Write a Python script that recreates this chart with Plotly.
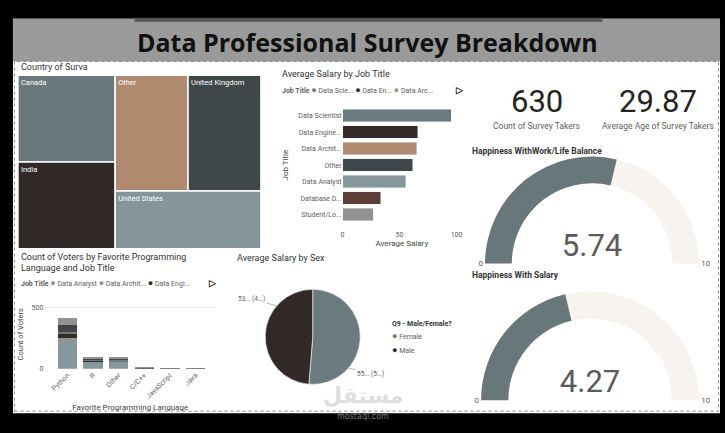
import plotly.graph_objects as go

W, H = 725, 433
def X(px): return px / W
def Y(py): return 1 - py / H

# ---------------- data ----------------
countries = ["Canada", "India", "Other", "United Kingdom", "United States"]
country_values = [126, 126, 126, 126, 126]
country_colors = ["#6a787b", "#312828", "#b08a6f", "#3f4749", "#84969a"]

job_titles = ["Data Scientist", "Data Engineer", "Data Architect", "Other",
              "Data Analyst", "Database Developer", "Student/Looking/None"]
job_ticklabels = ["Data Scientist", "Data Engine...", "Data Archit...", "Other",
                  "Data Analyst", "Database D...", "Student/Lo..."]
avg_salary = [95.5, 66.0, 65.0, 61.5, 55.5, 33.5, 27.0]
job_color = {
    "Data Scientist": "#6b7a7d", "Data Engineer": "#332a2a", "Data Architect": "#b08b70",
    "Other": "#3e4749", "Data Analyst": "#85979b", "Database Developer": "#5e3e38",
    "Student/Looking/None": "#959190",
}
salary_legend = ["Data Scie...", "Data En...", "Data Arc..."]

languages = ["Python", "R", "Other", "C/C++", "JavaScript", "Java"]
stack_jobs = ["Data Analyst", "Data Architect", "Data Engineer", "Data Scientist",
              "Database Developer", "Other", "Student/Looking/None"]
votes = {
    "Data Analyst":         [249, 64, 58, 6, 4, 2],
    "Data Architect":       [2, 1, 1, 0, 0, 0],
    "Data Engineer":        [32, 5, 6, 2, 2, 1],
    "Data Scientist":       [24, 9, 10, 2, 1, 0],
    "Database Developer":   [2, 1, 1, 0, 0, 0],
    "Other":                [48, 6, 7, 1, 1, 0],
    "Student/Looking/None": [54, 12, 8, 1, 1, 1],
}
votes_legend = ["Data Analyst", "Data Archit...", "Data Engi..."]

sexes = ["Female", "Male"]
sex_salary = [55.9, 53.1]
sex_colors = ["#6b7a7d", "#312828"]

survey_count = 630
avg_age = 29.87
happy_work_life = 5.74
happy_salary = 4.27

FONT = "Roboto"
TXT = "#252423"
GREY = "#605e5c"

fig = go.Figure()

# ---------------- treemap ----------------
fig.add_trace(go.Treemap(
    labels=countries, parents=[""] * len(countries), values=country_values,
    marker=dict(colors=country_colors, line=dict(color="white", width=1.5),
                pad=dict(t=0, l=0, r=0, b=0)),
    textinfo="label", textposition="top left",
    textfont=dict(family=FONT, size=7.5, color="white"),
    pathbar=dict(visible=False), sort=True,
    tiling=dict(packing="squarify", pad=0),
    domain=dict(x=[X(16), X(260)], y=[Y(251), Y(76)]),
))

# ---------------- salary by job title ----------------
fig.add_trace(go.Bar(
    x=avg_salary, y=job_titles, orientation="h",
    marker=dict(color=[job_color[j] for j in job_titles]),
    xaxis="x", yaxis="y", showlegend=False,
))

# ---------------- stacked votes ----------------
for j in stack_jobs:
    fig.add_trace(go.Bar(
        x=languages, y=votes[j], name=j, marker=dict(color=job_color[j], line=dict(width=0)),
        xaxis="x2", yaxis="y2", showlegend=False,
    ))

# ---------------- pie ----------------
fig.add_trace(go.Pie(
    labels=sexes, values=sex_salary, sort=False, direction="clockwise", rotation=0,
    marker=dict(colors=sex_colors, line=dict(color="white", width=0.6)),
    textinfo="none", showlegend=False,
    domain=dict(x=[X(264), X(360)], y=[Y(388), Y(292)]),
))

# ---------------- gauges ----------------
def gauge(value, x0, x1, y0, y1):
    return go.Indicator(
        mode="gauge+number", value=value,
        number=dict(valueformat=".2f", font=dict(family=FONT, size=31, color="#5b5b5b")),
        gauge=dict(
            shape="angular",
            axis=dict(range=[0, 10], tickvals=[0, 10], ticklen=0, tickwidth=0,
                      tickcolor="rgba(0,0,0,0)",
                      tickfont=dict(family=FONT, size=8, color=GREY)),
            bar=dict(color="#67777a", thickness=1),
            bgcolor="#f7f3ee", borderwidth=0,
        ),
        domain=dict(x=[X(x0), X(x1)], y=[Y(y1), Y(y0)]),
    )

fig.add_trace(gauge(happy_work_life, 484, 701, 158, 266))
fig.add_trace(gauge(happy_salary, 481, 700, 294, 404))

# ---------------- shapes ----------------
shapes = [
    dict(type="rect", xref="paper", yref="paper", x0=X(11), x1=X(721), y0=Y(417), y1=Y(19),
         fillcolor="white", line=dict(width=0), layer="below"),
    dict(type="rect", xref="paper", yref="paper", x0=X(11), x1=X(721), y0=Y(62), y1=Y(19),
         fillcolor="#9a9a9a", line=dict(width=0), layer="below"),
    dict(type="rect", xref="paper", yref="paper", x0=X(133), x1=X(603), y0=Y(22), y1=Y(18),
         fillcolor="#555555", line=dict(width=0), layer="below"),
    dict(type="rect", xref="paper", yref="paper", x0=X(12.5), x1=X(719.5), y0=Y(415), y1=Y(62),
         fillcolor="rgba(0,0,0,0)", line=dict(color="#8a8a8a", width=1, dash="dot"), layer="below"),
]

# ---------------- annotations ----------------
ann = []
def txt(x, y, s, size=9, color=TXT, xanchor="left", family=FONT, bold=False, yanchor="middle"):
    ann.append(dict(xref="paper", yref="paper", x=X(x), y=Y(y), text=(f"<b>{s}</b>" if bold else s),
                    showarrow=False, xanchor=xanchor, yanchor=yanchor,
                    font=dict(family=family, size=size, color=color)))

txt(367, 42, "Data Professional Survey Breakdown", size=25, color="#111111",
    xanchor="center", family="Open Sans", bold=True)

txt(17, 68, "Country of Surva", size=9, color="#333333")
txt(279, 75, "Average Salary by Job Title", size=9, color="#333333")
txt(17, 259, "Count of Voters by Favorite Programming", size=9, color="#333333")
txt(17, 271, "Language and Job Title", size=9, color="#333333")
txt(234, 260, "Average Salary by Sex", size=9, color="#333333")

DOT = "<span style='color:{c};font-size:9px'>●</span> {t}"

def legend_line(x, y, labels, jobs, arrow_x):
    parts = ["<b>Job Title</b>"]
    for lab, j in zip(labels, jobs):
        parts.append(DOT.format(c=job_color[j], t=lab))
    txt(x, y, " ".join(parts), size=7, color=GREY)
    txt(arrow_x, y, "▷", size=9, color="#222222", bold=True)

legend_line(279, 91, salary_legend, job_titles[:3], 453)
legend_line(17, 286, votes_legend, stack_jobs[:3], 205)

# cards
txt(537, 102, f"{survey_count}", size=31, color=TXT, xanchor="center")
txt(537, 127, "Count of Survey Takers", size=8.5, color=GREY, xanchor="center")
txt(659, 102, f"{avg_age:.2f}", size=31, color=TXT, xanchor="center")
txt(659, 127, "Average Age of Survey Takers", size=8.5, color=GREY, xanchor="center")

txt(470, 152, "Happiness WithWork/Life Balance", size=8.5, color="#333333", bold=True)
txt(470, 278, "Happiness With Salary", size=8.5, color="#333333", bold=True)

# pie labels
total = sum(sex_salary)
def pie_lab(v):
    return f"{str(int(v))[:2]}... ({str(int(100 * v / total))[0]}...)"
ann.append(dict(xref="paper", yref="paper", x=X(277), y=Y(309), ax=-26, ay=-7,
                text=pie_lab(sex_salary[1]), showarrow=True, arrowhead=0, arrowwidth=0.7,
                arrowcolor="#9a9a9a", font=dict(family=FONT, size=6.5, color=GREY)))
ann.append(dict(xref="paper", yref="paper", x=X(346), y=Y(371), ax=24, ay=6,
                text=pie_lab(sex_salary[0]), showarrow=True, arrowhead=0, arrowwidth=0.7,
                arrowcolor="#9a9a9a", font=dict(family=FONT, size=6.5, color=GREY)))
txt(390, 327, "Q9 - Male/Female?", size=7, color="#333333", bold=True)
for i, (s, c) in enumerate(zip(sexes, sex_colors)):
    txt(390, 339 + 14 * i, DOT.format(c=c, t=s), size=7, color=GREY)

# watermark
txt(363, 399, "مستقل", size=22, color="rgba(200,200,200,0.6)", xanchor="center",
    family="DejaVu Sans", bold=True)
txt(363, 420, "mostaql.com", size=8, color="rgba(200,200,200,0.6)", xanchor="center",
    family="DejaVu Sans")

axis_font = dict(family=FONT, size=7, color=GREY)
fig.update_layout(
    width=W, height=H, margin=dict(l=0, r=0, t=0, b=0),
    paper_bgcolor="black", plot_bgcolor="rgba(0,0,0,0)",
    barmode="stack", bargap=0.24, showlegend=False,
    font=dict(family=FONT),
    shapes=shapes, annotations=ann,
    xaxis=dict(domain=[X(342), X(461)], range=[0, 104], anchor="y",
               tickvals=[0, 50, 100], showgrid=False, zeroline=False, showline=False,
               tickfont=axis_font, ticks="", ticklabelstandoff=6,
               title=dict(text="Average Salary", font=dict(family=FONT, size=8, color="#444444"), standoff=2)),
    yaxis=dict(domain=[Y(225), Y(108.3)], anchor="x", autorange="reversed",
               tickmode="array", tickvals=job_titles, ticktext=job_ticklabels,
               showgrid=False, zeroline=False, tickfont=axis_font, ticks="",
               title=dict(text="Job Title", font=dict(family=FONT, size=8, color="#444444"), standoff=8)),
    xaxis2=dict(domain=[X(42.6), X(214.8)], range=[-0.9, 5.8], anchor="y2",
                tickangle=-45, showgrid=False, zeroline=False, tickfont=dict(family=FONT, size=7, color=GREY),
                ticks="",
                title=dict(text="Favorite Programming Language", font=dict(family=FONT, size=8, color="#444444"), standoff=4)),
    yaxis2=dict(domain=[Y(372.3), Y(302.5)], range=[0, 560], anchor="x2",
                tickvals=[0, 500], gridcolor="#eeeeee", zeroline=False, tickfont=axis_font, ticks="",
                title=dict(text="Count of Voters", font=dict(family=FONT, size=7.5, color="#444444"), standoff=6)),
)

fig.write_html("out.html")
